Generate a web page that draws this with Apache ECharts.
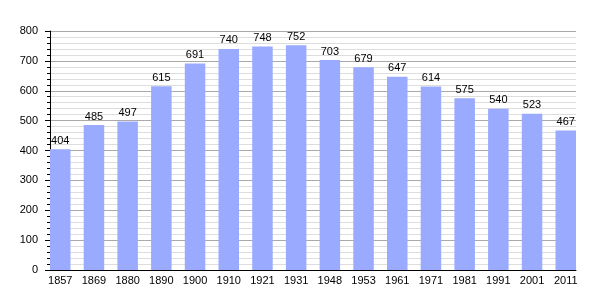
<!DOCTYPE html>
<html><head><meta charset="utf-8">
<script src="https://cdn.jsdelivr.net/npm/echarts@6/dist/echarts.min.js"></script>
<style>html,body{margin:0;padding:0;background:#fff}#c{width:605px;height:300px}</style>
</head><body><div id="c"></div>
<script>
const years = ['1857','1869','1880','1890','1900','1910','1921','1931','1948','1953','1961','1971','1981','1991','2001','2011'];
const population = [404,485,497,615,691,740,748,752,703,679,647,614,575,540,523,467];
const yTicks = [0,100,200,300,400,500,600,700,800];

const font = 'Liberation Sans, Arial, sans-serif';
const chart = echarts.init(document.getElementById('c'), null, {renderer:'canvas'});
chart.setOption({
  animation:false,
  backgroundColor:'#fff',
  grid:[
    {left:50, right:29, top:31, bottom:30, containLabel:false},
    {left:43.4, right:22.4, top:31, bottom:30, containLabel:false}
  ],
  xAxis:[
    {gridIndex:0, type:'category', data:years, boundaryGap:true,
     axisLine:{show:true, lineStyle:{color:'#000', width:1}},
     axisTick:{show:false}, axisLabel:{show:false}, splitLine:{show:false}},
    {gridIndex:1, type:'category', data:years, boundaryGap:true,
     axisLine:{show:false}, axisTick:{show:false},
     axisLabel:{show:true, color:'#000', fontFamily:font, fontSize:11, margin:5}}
  ],
  yAxis:[
    {gridIndex:0, type:'value', min:yTicks[0], max:yTicks[yTicks.length-1], interval:100,
     axisLine:{show:true, lineStyle:{color:'#000', width:1}},
     axisTick:{show:true, length:5, lineStyle:{color:'#000'}},
     minorTick:{show:true, splitNumber:5, length:3, lineStyle:{color:'#000'}},
     splitLine:{show:true, lineStyle:{color:'#aaaaaa', width:1}},
     minorSplitLine:{show:true, lineStyle:{color:'#dddddd', width:1}},
     axisLabel:{color:'#000', fontFamily:font, fontSize:11, margin:12}},
    {gridIndex:1, type:'value', min:yTicks[0], max:yTicks[yTicks.length-1], show:false}
  ],
  series:[{
    type:'bar', xAxisIndex:1, yAxisIndex:1, data:population, barWidth:20.5,
    itemStyle:{color:'#99aaff'},
    label:{show:true, position:'top', distance:3, color:'#000', fontFamily:font, fontSize:11}
  }]
});
</script></body></html>
